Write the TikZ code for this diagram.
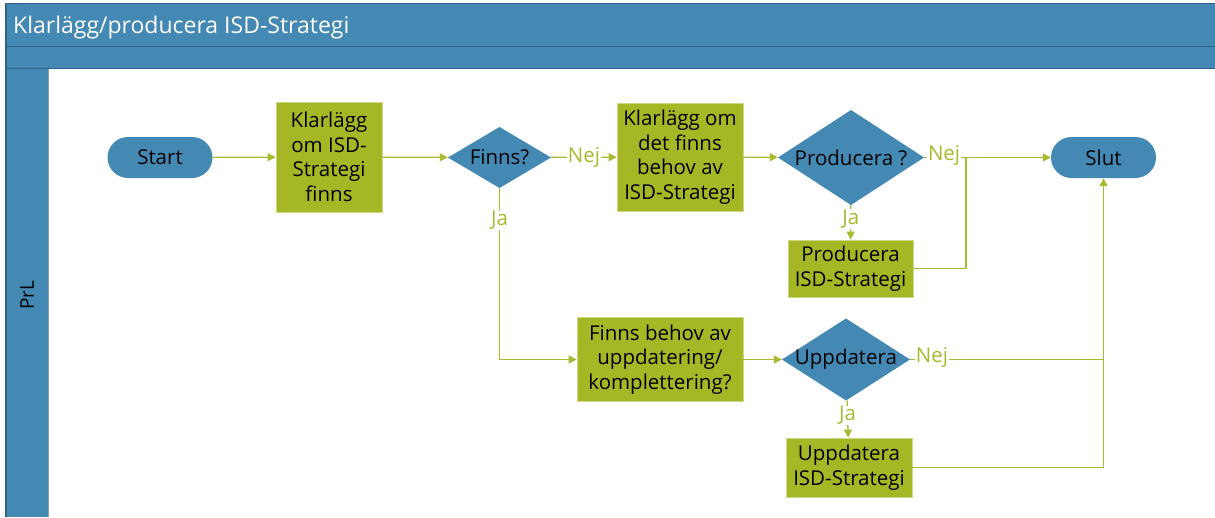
\documentclass[tikz,border=0pt]{standalone}
\usepackage{fontspec}
\setmainfont{Open Sans}
\usetikzlibrary{arrows.meta}
\definecolor{laneblue}{HTML}{4389B4}
\definecolor{frameblue}{HTML}{2F6486}
\definecolor{stepgreen}{HTML}{A6B725}
\definecolor{flowgreen}{HTML}{A8BA30}

\begin{document}
\begin{tikzpicture}[x=1pt,y=-1pt,
  font=\fontsize{20.5}{24.5}\selectfont,
  proc/.style={rectangle, fill=stepgreen, draw=stepgreen!55!white, line width=0.8pt,
    align=center, inner sep=0pt, text=black},
  term/.style={rectangle, rounded corners=20.5pt, fill=laneblue,
    minimum width=105pt, minimum height=41pt, inner sep=0pt, text=black},
  decision/.style={rectangle, inner sep=0pt, text=black,
    path picture={\fill[laneblue] (path picture bounding box.west) -- (path picture bounding box.north)
      -- (path picture bounding box.east) -- (path picture bounding box.south) -- cycle;}},
  flow/.style={draw=flowgreen, line width=1.3pt, -{Triangle[length=8pt,width=8pt]}},
  link/.style={draw=flowgreen, line width=1.3pt},
  answer/.style={text=flowgreen, fill=white, inner sep=0.6pt}
]
\useasboundingbox (0,0) rectangle (1215,517);

% swimlane frame
\fill[laneblue] (6,3) rectangle (1215,68);
\fill[laneblue] (6,68) rectangle (48.5,517);
\draw[frameblue!60!white, line width=0.8pt] (48.5,68) -- (48.5,517);
\draw[frameblue, line width=1pt] (6,46) -- (1215,46);
\draw[frameblue, line width=1pt] (6,68) -- (1215,68);
\draw[frameblue, line width=1.2pt] (1215,3.5) -- (6,3.5) -- (6,517);

\node[anchor=base west, text=white, inner sep=0pt, font=\fontsize{23}{27}\selectfont] (title) at (13,33) {Klarlägg/producera ISD-Strategi};
\node[rotate=90, text=black, inner sep=0pt, font=\fontsize{19}{22}\selectfont] (lane) at (27,295) {PrL};

% steps
\node[term] (start) at (160,157.5) {Start};
\node[proc, minimum width=106pt, minimum height=110pt] (box1) at (329,157) {Klarlägg\\om ISD-\\Strategi\\finns};
\node[decision, minimum width=103pt, minimum height=61pt] (finns) at (499.5,157.5) {Finns?};
\node[proc, minimum width=126pt, minimum height=108pt] (box2) at (680,157) {Klarlägg om\\det finns\\behov av\\ISD-Strategi};
\node[decision, minimum width=146pt, minimum height=95pt] (prod) at (851,157.5) {Producera ?};
\node[term] (slut) at (1103.5,157.5) {Slut};
\node[proc, minimum width=125pt, minimum height=57pt] (box3) at (850.5,268.5) {Producera\\ISD-Strategi};
\node[proc, minimum width=166pt, minimum height=84pt] (box4) at (660,359.5) {Finns behov av\\uppdatering/\\komplettering?};
\node[decision, minimum width=128pt, minimum height=82pt] (upd) at (846,359.5) {Uppdatera};
\node[proc, minimum width=126pt, minimum height=59pt] (box5) at (849,467.5) {Uppdatera\\ISD-Strategi};

% connectors
\coordinate (j1) at (966,157.5);
\draw[flow] (start) -- (box1);
\draw[flow] (box1) -- (finns);
\draw[flow] (finns) -- node[answer]{Nej} (box2);
\draw[flow] (box2) -- (prod);
\draw[flow] (prod.east) -- node[answer, pos=0.157, yshift=2pt]{Nej} (slut.west);
\draw[link] (box3.east) -| (j1);
\draw[flow] (prod) -- node[answer, pos=0.4]{Ja} (box3);
\draw[flow] (finns.south) |- node[answer, pos=0.094]{Ja} (box4.west);
\draw[flow] (box4) -- (upd);
\draw[flow] (upd) -- node[answer, pos=0.4]{Ja} (box5);
\draw[flow] (box5.east) -| (slut.south);
\draw[link] (upd.east) -- node[answer, pos=0.113, yshift=2pt]{Nej} (upd.east -| slut.south);
\end{tikzpicture}
\end{document}
